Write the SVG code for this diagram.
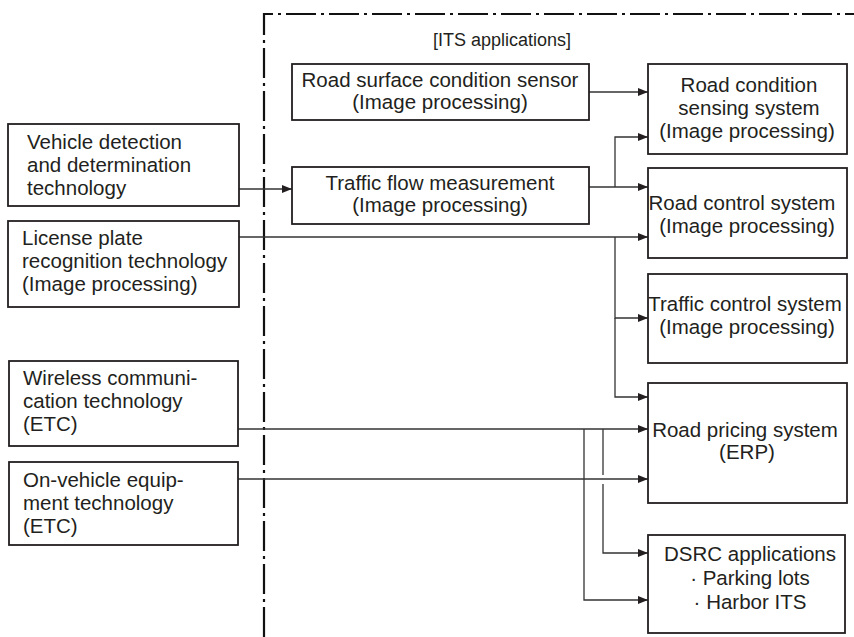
<svg xmlns="http://www.w3.org/2000/svg" width="854" height="637" viewBox="0 0 854 637">
<style>
.box{fill:#fff;stroke:#231f20;stroke-width:1.8}
.t{font-family:"Liberation Sans",Arial,sans-serif;font-size:20.5px;fill:#231f20}
.c{text-anchor:middle}
.ln{fill:none;stroke:#333;stroke-width:1.3}
.bd{fill:none;stroke:#111;stroke-width:2.2;stroke-dasharray:30 5 3 5}
</style>
<defs>
<marker id="ah" viewBox="0 0 10 8" refX="10" refY="4" markerWidth="10" markerHeight="8" markerUnits="userSpaceOnUse" orient="auto">
<path d="M0,0 L10,4 L0,8 Z" fill="#231f20"/>
</marker>
</defs>
<rect width="854" height="637" fill="#fff"/>
<path class="bd" d="M264,637 L264,14 L854,14"/>
<text class="t c" x="502" y="46" style="font-size:18px">[ITS applications]</text>

<g id="connectors">
<path class="ln" d="M589,92 H648" marker-end="url(#ah)"/>
<path class="ln" d="M239,189 H292" marker-end="url(#ah)"/>
<path class="ln" d="M589,187 H648" marker-end="url(#ah)"/>
<path class="ln" d="M615,187 V137 H648" marker-end="url(#ah)"/>
<path class="ln" d="M239,237 H648" marker-end="url(#ah)"/>
<path class="ln" d="M615,237 V318 H648" marker-end="url(#ah)"/>
<path class="ln" d="M615,318 V397 H648" marker-end="url(#ah)"/>
<path class="ln" d="M238,429 H648" marker-end="url(#ah)"/>
<path class="ln" d="M238,479 H648" marker-end="url(#ah)"/>
<path class="ln" d="M584,429 V600 H648" marker-end="url(#ah)"/>
<path class="ln" d="M603,429 V475"/>
<path class="ln" d="M603,484 V553 H648" marker-end="url(#ah)"/>
</g>

<g id="vehicle-detection">
<rect class="box" x="8" y="124" width="231" height="82"/>
<text class="t" x="27" y="149">Vehicle detection</text>
<text class="t" x="27" y="172">and determination</text>
<text class="t" x="27" y="195">technology</text>
</g>
<g id="license-plate">
<rect class="box" x="8" y="221" width="231" height="86"/>
<text class="t" x="22" y="245">License plate</text>
<text class="t" x="22" y="268">recognition technology</text>
<text class="t" x="22" y="291">(Image processing)</text>
</g>
<g id="wireless">
<rect class="box" x="9" y="361" width="229" height="85"/>
<text class="t" x="23" y="385">Wireless communi-</text>
<text class="t" x="23" y="408">cation technology</text>
<text class="t" x="23" y="431">(ETC)</text>
</g>
<g id="on-vehicle">
<rect class="box" x="9" y="462" width="229" height="83"/>
<text class="t" x="23" y="487">On-vehicle equip-</text>
<text class="t" x="23" y="510">ment technology</text>
<text class="t" x="23" y="533">(ETC)</text>
</g>
<g id="road-surface">
<rect class="box" x="292" y="64" width="297" height="56"/>
<text class="t c" x="440" y="87">Road surface condition sensor</text>
<text class="t c" x="440" y="109">(Image processing)</text>
</g>
<g id="traffic-flow">
<rect class="box" x="292" y="167" width="297" height="57"/>
<text class="t c" x="440" y="190">Traffic flow measurement</text>
<text class="t c" x="440" y="212">(Image processing)</text>
</g>
<g id="road-condition">
<rect class="box" x="648" y="64" width="199" height="90"/>
<text class="t c" x="749" y="92">Road condition</text>
<text class="t c" x="749" y="115">sensing system</text>
<text class="t c" x="747" y="138">(Image processing)</text>
</g>
<g id="road-control">
<rect class="box" x="648" y="168" width="199" height="90"/>
<text class="t c" x="742" y="210">Road control system</text>
<text class="t c" x="747" y="233">(Image processing)</text>
</g>
<g id="traffic-control">
<rect class="box" x="648" y="274" width="199" height="89"/>
<text class="t c" x="745" y="311">Traffic control system</text>
<text class="t c" x="747" y="334">(Image processing)</text>
</g>
<g id="road-pricing">
<rect class="box" x="648" y="383" width="199" height="120"/>
<text class="t c" x="745" y="437">Road pricing system</text>
<text class="t c" x="747" y="459">(ERP)</text>
</g>
<g id="dsrc">
<rect class="box" x="648" y="535" width="197" height="98"/>
<text class="t c" x="750" y="561">DSRC applications</text>
<text class="t c" x="750" y="585">· Parking lots</text>
<text class="t c" x="750" y="609">· Harbor ITS</text>
</g>
</svg>
